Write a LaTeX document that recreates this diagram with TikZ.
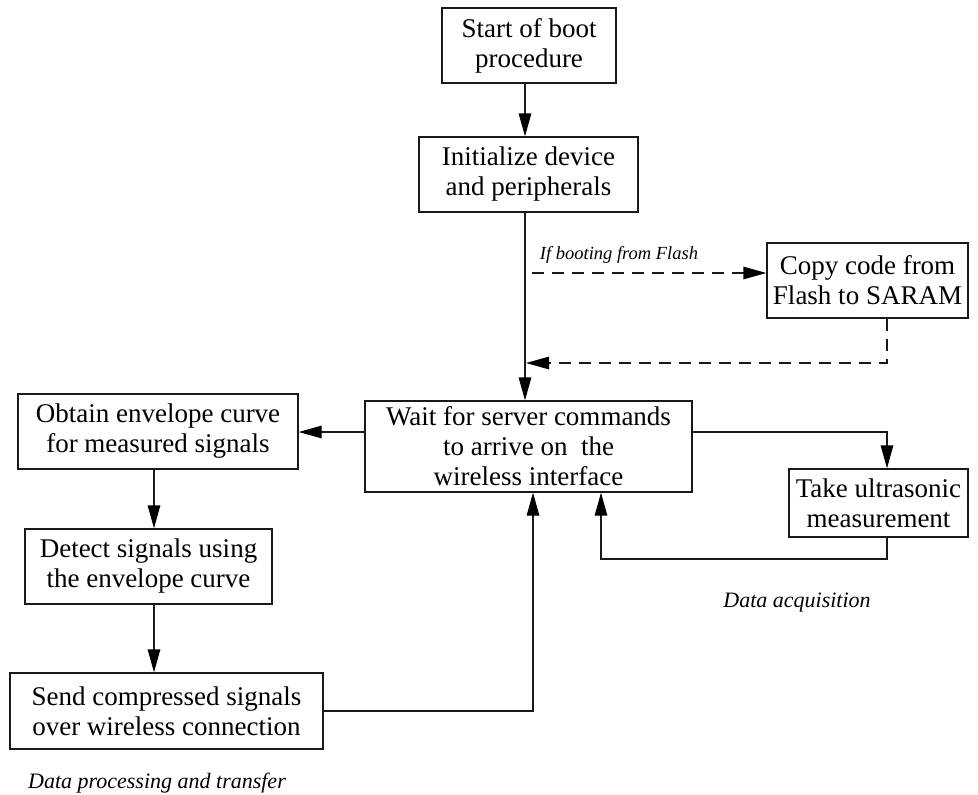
\documentclass[tikz,border=0pt]{standalone}
\usepackage{fontspec}
\setmainfont{Liberation Serif}
\usetikzlibrary{arrows.meta}
\tikzset{
  box/.style={draw=black!90, line width=1.3pt, inner sep=0pt, align=center,
    font=\fontsize{27}{30}\selectfont},
  flow/.style={draw=black!90, line width=1.3pt,
    -{Triangle[length=23pt,width=12.5pt,fill=black,color=black]}},
  dashflow/.style={flow, dash pattern=on 12pt off 8pt},
  note/.style={font=\fontsize{22}{26}\selectfont\itshape},
  smallnote/.style={font=\fontsize{18.5}{21}\selectfont\itshape},
}
\begin{document}
\begin{tikzpicture}[x=1pt,y=-1pt]
\useasboundingbox (0,0) rectangle (978,795);

% boxes
\node[box, minimum width=174pt, minimum height=75pt] (start)  at (529,45.5)   {Start of boot\\procedure};
\node[box, minimum width=219pt, minimum height=75pt] (init)   at (528.5,174.5) {Initialize device\\and peripherals};
\node[box, minimum width=201pt, minimum height=75pt] (copy)   at (867.5,280.5) {Copy code from\\Flash to SARAM};
\node[box, minimum width=327pt, minimum height=91pt] (wait)   at (528.5,446.5) {Wait for server commands\\to arrive on\ \ the\\wireless interface};
\node[box, minimum width=280pt, minimum height=75pt] (obtain) at (158,431.5)  {Obtain envelope curve\\for measured signals};
\node[box, minimum width=179pt, minimum height=68pt] (take)   at (878.5,503)  {Take ultrasonic\\measurement};
\node[box, minimum width=247pt, minimum height=75pt] (detect) at (148.5,566.5) {Detect signals using\\the envelope curve};
\node[box, minimum width=313pt, minimum height=76pt] (send)   at (166.5,711)  {Send compressed signals\\over wireless connection};

% captions
\node[smallnote] (iflabel) at (619,255) {If booting from Flash};
\node[note] (acq)  at (797,603) {Data acquisition};
\node[note] (proc) at (157,783) {Data processing and transfer};

% routing points
\coordinate (trunk) at (525,0);
\coordinate (fork)  at (532,273);
\coordinate (rx)    at (887,0);
\coordinate (join)  at (526,363);
\coordinate (ly)    at (0,432);
\coordinate (lx)    at (154,0);
\coordinate (back)  at (601,559);
\coordinate (up)    at (533,711);

% boot sequence
\draw[flow] (start.south -| trunk) -- (init.north -| trunk);
\draw[flow] (init.south -| trunk) -- (wait.north -| trunk);
\draw[dashflow] (fork) -- (fork -| copy.west);
\draw[dashflow] (copy.south -| rx) |- (join);

% acquisition loop
\draw[flow] (wait.east |- ly) -| (take.north -| rx);
\draw[flow] (take.south -| rx) |- (back) -- (wait.south -| back);

% processing chain
\draw[flow] (wait.west |- ly) -- (obtain.east |- ly);
\draw[flow] (obtain.south -| lx) -- (detect.north -| lx);
\draw[flow] (detect.south -| lx) -- (send.north -| lx);
\draw[flow] (send.east |- up) -| (wait.south -| up);
\end{tikzpicture}
\end{document}
